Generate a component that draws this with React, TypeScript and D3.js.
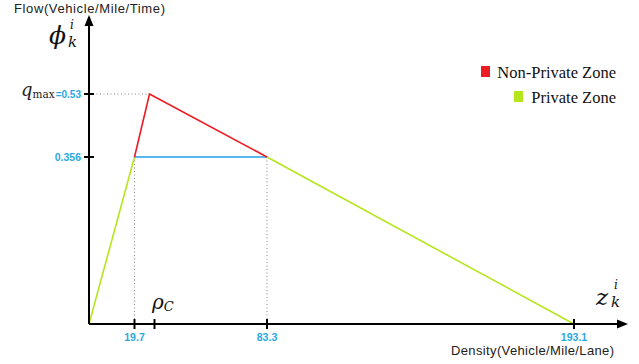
import React from "react";
import * as d3 from "d3";

const densityTicks = [19.7, 83.3, 193.1];
const densityTickLabels = ["19.7", "83.3", "193.1"];
const flowTicks = [0.356, 0.53];
const rhoC = 29.3;
const peak = { x: 26.9, y: 0.53 };
const freeFlow = [
  { x: 0, y: 0 },
  { x: 19.7, y: 0.356 },
];
const nonPrivate = [
  { x: 19.7, y: 0.356 },
  { x: 26.9, y: 0.53 },
  { x: 83.3, y: 0.356 },
];
const congested = [
  { x: 83.3, y: 0.356 },
  { x: 193.1, y: 0 },
];
const capacityLine = [
  { x: 19.7, y: 0.356 },
  { x: 83.3, y: 0.356 },
];
const legendItems = [
  { label: "Non-Private Zone", color: "#ed1c24" },
  { label: "Private Zone", color: "#b5e61d" },
];

const W = 639;
const H = 364;
const ox = 89;
const oy = 324;

export default function App() {
  // schematic (piecewise) scales, as in the original sketch
  const x = d3.scaleLinear().domain([0, 19.7, 83.3, 193.1]).range([ox, 134.5, 267, 574]);
  const y = d3.scaleLinear().domain([0, 0.356, 0.53]).range([oy, 157, 94]);
  const line = d3
    .line<{ x: number; y: number }>()
    .x((d) => x(d.x))
    .y((d) => y(d.y));

  const blue = "#29a9e1";
  const mathFont = "'DejaVu Serif', 'Liberation Serif', serif";
  const sans = "'Liberation Sans', Arial, sans-serif";
  return (
    <div style={{ position: "absolute", left: 0, top: 0 }}>
      <svg width={W} height={H} style={{ display: "block", background: "#fff" }}>
        {/* dotted guides */}
        <path
          d={`M${ox + 4},${y(0.53)}H${x(peak.x)}`}
          stroke="#888"
          strokeWidth={1}
          strokeDasharray="1,2.5"
          fill="none"
        />
        {[19.7, 83.3].map((v) => (
          <path
            key={v}
            d={`M${x(v)},${y(0.356)}V${oy - 4}`}
            stroke="#888"
            strokeWidth={1}
            strokeDasharray="1,2.5"
            fill="none"
          />
        ))}
        {/* series */}
        <path d={line(freeFlow)!} stroke="#b5e61d" strokeWidth={1.6} fill="none" />
        <path d={line(congested)!} stroke="#b5e61d" strokeWidth={1.6} fill="none" />
        <path d={line(capacityLine)!} stroke="#1ea0e6" strokeWidth={1.6} fill="none" />
        <path d={line(nonPrivate)!} stroke="#ed1c24" strokeWidth={1.6} fill="none" strokeLinejoin="miter" />

        {/* axes */}
        <line x1={ox} y1={oy} x2={ox} y2={24} stroke="#000" strokeWidth={2} />
        <path d={`M${ox},15L${ox - 4.5},26L${ox + 4.5},26Z`} fill="#000" />
        <line x1={ox} y1={oy} x2={618} y2={oy} stroke="#000" strokeWidth={2} />
        <path d={`M628,${oy}L617,${oy - 4.5}L617,${oy + 4.5}Z`} fill="#000" />

        {/* ticks */}
        {flowTicks.map((v) => (
          <line key={v} x1={ox - 5} x2={ox + 5} y1={y(v)} y2={y(v)} stroke="#000" strokeWidth={2} />
        ))}
        {[...densityTicks, rhoC].map((v) => (
          <line key={v} x1={x(v)} x2={x(v)} y1={oy - 5} y2={oy + 5} stroke="#000" strokeWidth={2} />
        ))}

        {/* tick labels */}
        {densityTicks.map((v, i) => (
          <text
            key={v}
            x={x(v)}
            y={341}
            textAnchor="middle"
            fill={blue}
            fontFamily={sans}
            fontWeight="bold"
            fontSize={10.5}
          >
            {densityTickLabels[i]}
          </text>
        ))}
        <text x={81} y={y(0.356) + 4} textAnchor="end" fill={blue} fontFamily={sans} fontWeight="bold" fontSize={10.5}>
          0.356
        </text>
        <text x={81} y={y(0.53) + 4} textAnchor="end" fill={blue} fontFamily={sans} fontWeight="bold" fontSize={10}>
          =0.53
        </text>
        <text x={21} y={y(0.53) + 2} fontFamily={mathFont} fill="#222">
          <tspan fontStyle="italic" fontSize={18}>q</tspan>
          <tspan fontSize={10.5} dy={2}>max</tspan>
        </text>

        {/* axis titles */}
        <text x={14} y={13} fontFamily={sans} fontSize={13} fill="#222" textLength={151} lengthAdjust="spacing">
          Flow(Vehicle/Mile/Time)
        </text>
        <text x={451} y={355} fontFamily={sans} fontSize={13} fill="#222" textLength={163} lengthAdjust="spacing">
          Density(Vehicle/Mile/Lane)
        </text>

        {/* math symbols */}
        <text x={49} y={44} fontFamily={mathFont} fontStyle="italic" fontSize={25} fill="#111">
          ϕ
        </text>
        <text x={70} y={29} fontFamily={mathFont} fontStyle="italic" fontSize={12} fill="#111">i</text>
        <text x={68} y={47} fontFamily={mathFont} fontStyle="italic" fontSize={15} fill="#111">k</text>

        <text x={596} y={305} fontFamily={mathFont} fontStyle="italic" fontSize={23} fill="#111">z</text>
        <text x={614} y={289} fontFamily={mathFont} fontStyle="italic" fontSize={12} fill="#111">i</text>
        <text x={611} y={307} fontFamily={mathFont} fontStyle="italic" fontSize={15} fill="#111">k</text>

        <text x={152} y={309} fontFamily={mathFont} fill="#111">
          <tspan fontStyle="italic" fontSize={20}>ρ</tspan>
          <tspan fontStyle="italic" fontSize={13} dy={2}>C</tspan>
        </text>

        {/* legend */}
        {legendItems.map((d, i) => (
          <text
            key={d.label}
            x={616}
            y={78 + i * 25}
            textAnchor="end"
            fontFamily="'Liberation Serif', 'DejaVu Serif', serif"
            fontSize={16.5}
            fill="#111"
          >
            {d.label}
          </text>
        ))}
        <rect x={481} y={66} width={9} height={11} fill={legendItems[0].color} />
        <rect x={514} y={91} width={9} height={11} fill={legendItems[1].color} />
      </svg>
    </div>
  );
}
